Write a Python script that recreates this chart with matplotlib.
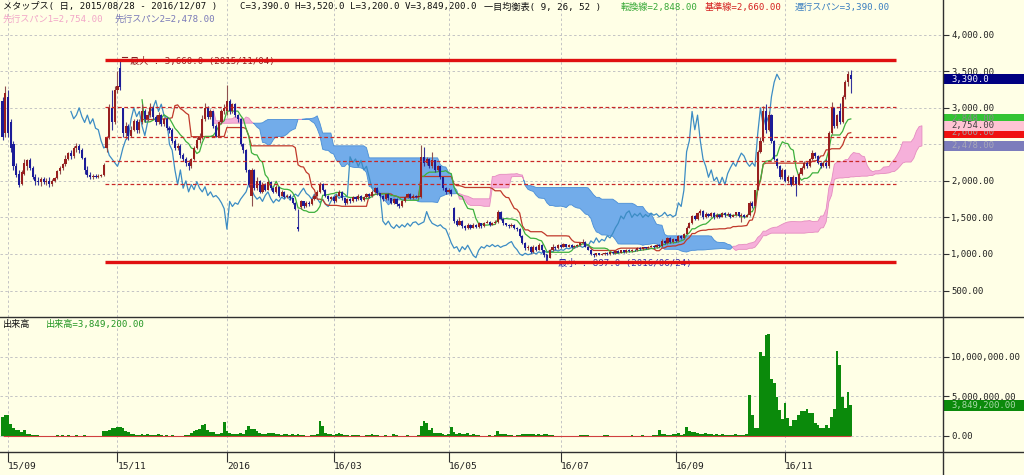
import numpy as np
import pandas as pd
import matplotlib
matplotlib.use('Agg')
import matplotlib.pyplot as plt
from matplotlib.lines import Line2D
from matplotlib.patches import Rectangle

plt.rcParams['font.family'] = ['DejaVu Sans Mono', 'Noto Sans CJK JP']

# ---------------- data ----------------
holidays = ['2015-09-21', '2015-09-22', '2015-09-23', '2015-10-12', '2015-11-03',
            '2015-11-23', '2015-12-23', '2015-12-31', '2016-01-01', '2016-01-11',
            '2016-02-11', '2016-03-21', '2016-04-29', '2016-05-03', '2016-05-04',
            '2016-05-05', '2016-07-18', '2016-08-11', '2016-09-19', '2016-09-22',
            '2016-10-10', '2016-11-03', '2016-11-23']
dates = pd.bdate_range('2015-08-28', '2016-12-07', freq='C', holidays=holidays)

opens = [
    3100, 2650, 3150, 2800, 2500, 2200, 2100, 1960, 2100, 2200,
    2280, 2180, 2050, 2000, 1980, 2030, 1990, 2000, 1960, 2000,
    2040, 2130, 2180, 2230, 2300, 2380, 2340, 2450, 2480, 2420,
    2320, 2150, 2080, 2060, 2070, 2060, 2070, 2080, 2450, 2600,
    3000, 2800, 3250, 3550, 3000, 2650, 2750, 2620, 2700, 2820,
    2700, 2800, 2950, 2850, 2900, 3000, 2880, 2800, 2900, 2780,
    2850, 2720, 2700, 2550, 2450, 2480, 2350, 2300, 2250, 2200,
    2300, 2450, 2560, 2600, 2850, 3000, 2880, 2950, 2750, 2620,
    2800, 2950, 2950, 3100, 2950, 3050, 2900, 2850, 2500, 2420,
    2150, 1800, 2150, 1900, 2000, 1850, 1950, 1880, 1990, 1900,
    1850, 1920, 1800, 1850, 1780, 1800, 1760, 1700, 1370, 1640,
    1720, 1650, 1700, 1680, 1750, 1800, 1850, 1960, 1880, 1800,
    1750, 1780, 1720, 1800, 1850, 1760, 1700, 1750, 1720, 1780,
    1750, 1800, 1740, 1780, 1820, 1790, 1850, 1900, 1830, 1800,
    1750, 1820, 1760, 1700, 1750, 1680, 1650, 1720, 1780, 1820,
    1760, 1800, 1780, 1780, 2330, 2250, 2300, 2200, 2280, 2150,
    2200, 2050, 1900, 1850, 1880, 1630, 1450, 1400, 1450, 1380,
    1350, 1400, 1360, 1400, 1370, 1420, 1380, 1430, 1440, 1400,
    1420, 1440, 1580, 1480, 1420, 1400, 1380, 1400, 1360, 1340,
    1250, 1150, 1080, 1100, 1030, 1100, 1060, 1120, 1050, 980,
    950, 1050, 1100, 1080, 1120, 1100, 1130, 1100, 1120, 1090,
    1110, 1120, 1150, 1170, 1100, 1060, 1000, 980, 1010, 990,
    1000, 1020, 1000, 1030, 1010, 1040, 1020, 1050, 1030, 1060,
    1040, 1060, 1050, 1080, 1070, 1090, 1080, 1100, 1110, 1090,
    1120, 1110, 1180, 1150, 1220, 1160, 1200, 1180, 1250, 1220,
    1280, 1360, 1420, 1520, 1480, 1560, 1590, 1500, 1550, 1520,
    1560, 1500, 1540, 1510, 1560, 1530, 1550, 1510, 1530, 1570,
    1520, 1540, 1510, 1530, 1700, 1650, 1880, 2400, 2550, 2950,
    2700, 2900, 2550, 2300, 2200, 2050, 2150, 2000, 2050, 1950,
    2050, 1950, 2100, 2180, 2250, 2200, 2300, 2380, 2340, 2250,
    2200, 2250, 2200, 2650, 3000, 2750, 2950, 2800, 3150, 3350, 3450]
closes = [
    2600, 3200, 2650, 2450, 2200, 2080, 1950, 2120, 2250, 2280,
    2180, 2050, 2000, 1980, 2030, 1990, 2000, 1960, 2000, 2040,
    2130, 2180, 2230, 2300, 2380, 2340, 2450, 2480, 2420, 2320,
    2150, 2080, 2060, 2070, 2060, 2070, 2080, 2220, 2600, 3000,
    2800, 3250, 3300, 3280, 2650, 2750, 2620, 2700, 2820, 2700,
    2800, 2950, 2850, 2900, 3000, 2880, 2800, 2900, 2780, 2850,
    2720, 2700, 2550, 2450, 2480, 2350, 2300, 2250, 2200, 2300,
    2450, 2560, 2600, 2850, 3000, 2880, 2950, 2750, 2620, 2800,
    2950, 3000, 3100, 2950, 3050, 2900, 2850, 2500, 2420, 2150,
    1950, 2150, 1900, 2000, 1850, 1950, 1880, 1990, 1900, 1850,
    1920, 1800, 1850, 1780, 1800, 1760, 1700, 1620, 1340, 1720,
    1650, 1700, 1680, 1750, 1800, 1850, 1960, 1880, 1800, 1750,
    1780, 1720, 1800, 1850, 1760, 1700, 1750, 1720, 1780, 1750,
    1800, 1740, 1780, 1820, 1790, 1850, 1900, 1830, 1800, 1750,
    1820, 1760, 1700, 1750, 1680, 1650, 1720, 1780, 1820, 1760,
    1800, 1780, 1790, 2330, 2250, 2300, 2200, 2280, 2150, 2200,
    2050, 1900, 1850, 1880, 1820, 1450, 1400, 1450, 1380, 1350,
    1400, 1360, 1400, 1370, 1420, 1380, 1430, 1440, 1400, 1420,
    1440, 1580, 1480, 1420, 1400, 1380, 1400, 1360, 1340, 1250,
    1150, 1080, 1100, 1030, 1100, 1060, 1120, 1050, 980, 950,
    1050, 1100, 1080, 1120, 1100, 1130, 1100, 1120, 1090, 1110,
    1120, 1150, 1170, 1100, 1060, 1000, 980, 1010, 990, 1000,
    1020, 1000, 1030, 1010, 1040, 1020, 1050, 1030, 1060, 1040,
    1060, 1050, 1080, 1070, 1090, 1080, 1100, 1110, 1090, 1120,
    1110, 1180, 1150, 1220, 1160, 1200, 1180, 1250, 1220, 1280,
    1360, 1420, 1520, 1480, 1560, 1590, 1500, 1550, 1520, 1560,
    1500, 1540, 1510, 1560, 1530, 1550, 1510, 1530, 1570, 1520,
    1540, 1510, 1530, 1700, 1650, 1870, 2400, 2550, 2950, 2700,
    2900, 2550, 2300, 2200, 2050, 2150, 2000, 2050, 1950, 2050,
    1950, 2100, 2180, 2250, 2200, 2300, 2380, 2340, 2250, 2200,
    2250, 2200, 2650, 3000, 2750, 2900, 2800, 3150, 3350, 3460, 3390]
highs = [
    3150, 3300, 3250, 2850, 2550, 2250, 2150, 2150, 2300, 2300,
    2320, 2200, 2100, 2060, 2050, 2060, 2040, 2050, 2020, 2060,
    2150, 2200, 2250, 2350, 2400, 2420, 2480, 2520, 2500, 2450,
    2330, 2200, 2120, 2100, 2100, 2090, 2100, 2250, 2620, 3050,
    3250, 3300, 3500, 3660, 3000, 2800, 2780, 2750, 2850, 2850,
    2850, 3050, 2980, 2950, 3060, 3020, 2900, 2940, 2920, 2880,
    2870, 2750, 2720, 2580, 2520, 2500, 2380, 2330, 2280, 2320,
    2480, 2600, 2650, 2900, 3065, 3020, 2980, 2960, 2780, 2820,
    2980, 3050, 3310, 3120, 3070, 3060, 2920, 2860, 2520, 2430,
    2160, 2180, 2160, 2050, 2010, 1980, 1970, 2010, 2000, 1920,
    1940, 1930, 1870, 1860, 1820, 1820, 1770, 1710, 1610, 1740,
    1730, 1720, 1720, 1770, 1820, 1870, 1985, 1970, 1890, 1810,
    1800, 1790, 1820, 1876, 1860, 1770, 1770, 1760, 1800, 1790,
    1820, 1810, 1800, 1840, 1830, 1870, 1920, 1910, 1840, 1810,
    1840, 1830, 1770, 1770, 1760, 1700, 1740, 1800, 1840, 1830,
    1820, 1810, 1810, 2490, 2460, 2330, 2320, 2400, 2290, 2220,
    2210, 2060, 1920, 1900, 1890, 1640, 1480, 1500, 1460, 1400,
    1420, 1410, 1420, 1410, 1440, 1430, 1440, 1460, 1450, 1440,
    1460, 1600, 1590, 1490, 1430, 1410, 1420, 1410, 1370, 1350,
    1260, 1160, 1120, 1110, 1120, 1110, 1150, 1130, 1060, 1000,
    1070, 1130, 1110, 1140, 1130, 1150, 1140, 1130, 1130, 1120,
    1140, 1160, 1200, 1180, 1110, 1070, 1010, 1020, 1020, 1010,
    1030, 1030, 1040, 1040, 1050, 1050, 1060, 1060, 1070, 1070,
    1070, 1070, 1090, 1090, 1100, 1100, 1110, 1120, 1120, 1130,
    1130, 1200, 1190, 1230, 1230, 1220, 1210, 1260, 1260, 1290,
    1380, 1440, 1540, 1530, 1580, 1610, 1600, 1570, 1560, 1575,
    1570, 1560, 1550, 1575, 1570, 1570, 1560, 1550, 1580, 1575,
    1560, 1550, 1550, 1720, 1720, 1880, 2420, 2600, 3020, 3050,
    2950, 2910, 2560, 2320, 2220, 2170, 2160, 2080, 2060, 2080,
    2060, 2120, 2200, 2270, 2270, 2320, 2420, 2400, 2350, 2260,
    2270, 2300, 2680, 3080, 3010, 2920, 3065, 3180, 3380, 3500, 3520]
lows = [
    2560, 2600, 2600, 2400, 2150, 2050, 1917, 1940, 2080, 2150,
    2150, 2020, 1950, 1950, 1930, 1960, 1950, 1920, 1930, 1980,
    2020, 2100, 2150, 2200, 2280, 2300, 2320, 2400, 2380, 2300,
    2100, 2050, 2020, 2030, 2040, 2040, 2050, 2070, 2400, 2580,
    2700, 2780, 3200, 3250, 2600, 2580, 2560, 2600, 2680, 2650,
    2650, 2780, 2800, 2820, 2880, 2850, 2760, 2780, 2750, 2750,
    2700, 2650, 2520, 2420, 2420, 2320, 2270, 2200, 2150, 2180,
    2280, 2430, 2520, 2580, 2820, 2850, 2850, 2720, 2600, 2600,
    2780, 2920, 2900, 2920, 2930, 2880, 2800, 2480, 2380, 2120,
    1917, 1650, 1880, 1880, 1830, 1830, 1860, 1870, 1880, 1830,
    1840, 1780, 1790, 1760, 1760, 1740, 1680, 1600, 1320, 1620,
    1630, 1640, 1660, 1670, 1740, 1790, 1840, 1860, 1780, 1730,
    1740, 1700, 1710, 1790, 1740, 1670, 1690, 1700, 1710, 1730,
    1740, 1720, 1730, 1770, 1770, 1780, 1840, 1810, 1780, 1730,
    1740, 1740, 1680, 1690, 1660, 1630, 1640, 1710, 1770, 1750,
    1750, 1760, 1770, 1770, 2200, 2220, 2180, 2180, 2120, 2130,
    2030, 1880, 1820, 1830, 1800, 1430, 1380, 1390, 1360, 1330,
    1340, 1340, 1350, 1350, 1360, 1360, 1370, 1420, 1380, 1390,
    1410, 1430, 1460, 1400, 1380, 1360, 1370, 1340, 1320, 1230,
    1130, 1060, 1060, 1010, 1020, 1040, 1050, 1030, 960, 897,
    940, 1040, 1060, 1070, 1080, 1090, 1090, 1090, 1080, 1080,
    1100, 1110, 1140, 1090, 1050, 990, 960, 970, 980, 980,
    990, 990, 990, 1000, 1000, 1010, 1010, 1020, 1020, 1030,
    1030, 1040, 1040, 1060, 1060, 1070, 1070, 1090, 1080, 1080,
    1100, 1100, 1140, 1140, 1150, 1150, 1160, 1170, 1200, 1210,
    1270, 1350, 1410, 1460, 1470, 1540, 1480, 1490, 1500, 1500,
    1480, 1490, 1490, 1500, 1510, 1520, 1490, 1500, 1520, 1500,
    1436, 1490, 1500, 1520, 1630, 1640, 1870, 2380, 2530, 2650,
    2680, 2520, 2280, 2170, 2030, 2020, 1980, 1970, 1930, 1940,
    1800, 1940, 2080, 2160, 2180, 2190, 2280, 2320, 2230, 2180,
    2190, 2180, 2176, 2640, 2720, 2730, 2780, 2790, 3120, 3300, 3200]
# volume in thousands of shares
volumes_k = [
    2400, 2700, 2600, 1500, 1000, 700, 700, 450, 800, 300,
    200, 150, 100, 80, 60, 50, 40, 60, 40, 50,
    80, 60, 90, 50, 100, 40, 60, 80, 40, 50,
    90, 40, 30, 30, 40, 30, 40, 600, 650, 700,
    1000, 1050, 1150, 1100, 1000, 650, 550, 300, 250, 150,
    120, 200, 150, 250, 120, 100, 80, 220, 100, 60,
    80, 60, 80, 50, 40, 60, 40, 80, 100, 350,
    600, 700, 850, 1400, 1500, 800, 550, 450, 250, 300,
    400, 1800, 600, 350, 250, 200, 250, 400, 300, 700,
    1200, 900, 850, 600, 350, 250, 200, 400, 400, 350,
    300, 200, 150, 250, 300, 150, 200, 150, 200, 100,
    80, 60, 50, 120, 150, 300, 1900, 1300, 350, 250,
    300, 150, 200, 350, 250, 100, 80, 60, 100, 80,
    150, 60, 60, 80, 100, 250, 150, 80, 60, 60,
    80, 50, 60, 200, 180, 60, 40, 60, 80, 60,
    40, 40, 80, 1300, 1900, 1600, 800, 1000, 400, 350,
    400, 250, 150, 200, 1100, 550, 250, 350, 300, 250,
    350, 150, 300, 100, 80, 60, 50, 60, 80, 60,
    150, 600, 250, 200, 300, 100, 80, 60, 100, 150,
    200, 250, 250, 200, 200, 150, 200, 150, 200, 300,
    150, 100, 60, 40, 60, 40, 60, 40, 50, 40,
    60, 80, 150, 100, 80, 60, 40, 40, 50, 40,
    100, 80, 60, 40, 40, 30, 40, 30, 40, 60,
    80, 40, 30, 40, 150, 60, 40, 60, 80, 100,
    800, 300, 200, 150, 100, 250, 200, 350, 150, 300,
    1100, 600, 500, 450, 350, 300, 250, 400, 300, 200,
    150, 200, 150, 300, 150, 100, 150, 100, 200, 150,
    100, 150, 250, 5200, 2600, 1000, 1000, 10600, 10100, 12700,
    12800, 7200, 6700, 4900, 3300, 2200, 4200, 2300, 1200, 2000,
    2000, 2600, 3100, 3100, 3400, 2900, 2900, 1600, 1400, 1000,
    1000, 1400, 1000, 2400, 3400, 10700, 8900, 4900, 3500, 5500, 3849.2]

tick_months = ['2015-09', '2015-11', '2016-01', '2016-03', '2016-05', '2016-07', '2016-09', '2016-11']
tick_labels = ['15/09', '15/11', '2016', '16/03', '16/05', '16/07', '16/09', '16/11']
price_ticks = [500, 1000, 1500, 2000, 2500, 3000, 3500, 4000]
vol_ticks = [0, 5_000_000, 10_000_000]
ichimoku_periods = (9, 26, 52)
max_price, max_date = 3660.0, '2015/11/04'
min_price, min_date = 897.0, '2016/06/24'
fib_ratios = [0.236, 0.382, 0.5, 0.618]

# ---------------- derived ----------------
O = np.array(opens, float); C = np.array(closes, float)
H = np.array(highs, float); L = np.array(lows, float)
V = np.array(volumes_k, float) * 1000
n = len(C)
dates = dates[:n]
x = np.arange(n)
p9, p26, p52 = ichimoku_periods
first = p52 - 1

def midpt(period, i):
    return (H[i - period + 1:i + 1].max() + L[i - period + 1:i + 1].min()) / 2

tenkan = np.full(n, np.nan); kijun = np.full(n, np.nan)
span1 = np.full(n + p26, np.nan); span2 = np.full(n + p26, np.nan)
for i in range(first, n):
    tenkan[i] = midpt(p9, i)
    kijun[i] = midpt(p26, i)
    span1[i + p26] = (tenkan[i] + kijun[i]) / 2
    span2[i + p26] = midpt(p52, i)
xs = np.arange(n + p26)

max_idx = int(np.argmax(H)); min_idx = int(np.argmin(L))

# ---------------- figure ----------------
W, Hh = 1024, 475
BG = '#FFFFE6'
fig = plt.figure(figsize=(W / 100, Hh / 100), dpi=100, facecolor=BG)
plot_r = 943
y_split, y_bot = 317, 452
axp = fig.add_axes([0, 1 - y_split / Hh, plot_r / W, y_split / Hh], facecolor=BG)
axv = fig.add_axes([0, 1 - y_bot / Hh, plot_r / W, (y_bot - y_split) / Hh], facecolor=BG)

x0 = -0.925; x1 = 343.7
for a in (axp, axv):
    a.set_xlim(x0, x1)
    for s in a.spines.values():
        s.set_visible(False)
axp.set_ylim(138, 4475)
axv.set_ylim(-2.02e6, 15.0e6)

tick_pos = [int(np.where(dates.strftime('%Y-%m') == m)[0][0]) for m in tick_months]

gkw = dict(color='#C4C4C4', linestyle=(0, (2.5, 2.5)), linewidth=0.7)
for a, yt in ((axp, price_ticks), (axv, vol_ticks)):
    a.set_axisbelow(True)
    a.set_xticks(tick_pos)
    a.set_yticks(yt)
    a.grid(True, **gkw)
    a.yaxis.tick_right()
    a.tick_params(axis='y', direction='out', length=4, width=0.8, pad=2,
                  labelsize=6.4, color='#303030', labelcolor='#202020')
axp.set_yticklabels([f'{v:,.2f}' for v in price_ticks])
axv.set_yticklabels([f'{v:,.2f}' for v in vol_ticks])
axp.tick_params(axis='x', length=0, labelbottom=False)
axv.set_xticklabels(tick_labels)
axv.tick_params(axis='x', direction='out', length=7, width=0.8, pad=0,
                labelsize=6.8, color='#303030', labelcolor='#202020')
for lb in axv.get_xticklabels():
    lb.set_ha('left')

# cloud
pink, blue = '#F6B0DA', '#72ACEA'
axp.fill_between(xs, span1, span2, where=span1 >= span2, interpolate=True,
                 facecolor=pink, edgecolor='#E58CC0', linewidth=0.6, zorder=1)
axp.fill_between(xs, span1, span2, where=span1 < span2, interpolate=True,
                 facecolor=blue, edgecolor='#4A8ED6', linewidth=0.6, zorder=1)

# lines
axp.plot(x[first:] - p26, C[first:], color='#3C8CC4', lw=0.9, zorder=2)
axp.plot(x, kijun, color='#C0392B', lw=0.9, zorder=2)
axp.plot(x, tenkan, color='#3DB03D', lw=0.9, zorder=2)

# candles
up = C >= O
body_b = np.minimum(O, C); body_h = np.maximum(np.abs(C - O), 10)
ucol, dcol = '#98201F', '#1C1C98'
axp.vlines(x[up], L[up], H[up], color='#8E5050', lw=0.8, zorder=3)
axp.vlines(x[~up], L[~up], H[~up], color='#34349C', lw=0.8, zorder=3)
axp.bar(x[up], body_h[up], bottom=body_b[up], width=0.78, color=ucol, linewidth=0, zorder=3.1)
axp.bar(x[~up], body_h[~up], bottom=body_b[~up], width=0.78, color=dcol, linewidth=0, zorder=3.1)

# max / min and fibonacci levels
fx0, fx1 = 37.5, 326.5
rng = max_price - min_price
for r in fib_ratios:
    axp.hlines(max_price - r * rng, fx0, fx1, color='#C82828', lw=0.9,
               linestyle=(0, (3, 2)), zorder=4)
axp.text(max_idx + 3.6, max_price - 25, f'最大 : {max_price:,.1f} ({max_date})', fontsize=6.6,
         color='#8C2020', va='center', ha='left', zorder=4)
axp.plot([max_idx + 0.5, max_idx + 2.6], [max_price + 30, max_price + 30], color='#8C2020', lw=0.8, zorder=4)
axp.text(min_idx + 4.0, min_price - 25, f'最小 : {min_price:,.1f} ({min_date})', fontsize=6.6,
         color='#3030A8', va='center', ha='left', zorder=4)
axp.plot([min_idx - 0.4, min_idx - 0.4, min_idx + 2.8], [1000, min_price, min_price],
         color='#3030A8', lw=0.8, zorder=4)
axp.hlines([max_price, min_price], fx0, fx1, color='#E01010', lw=2.4, zorder=4.5)

# volume
axv.bar(x, V, width=1.0, color='#0B8A0B', linewidth=0, zorder=2)
axv.hlines(0, 0, n - 1, color='#D04040', lw=0.8, zorder=3)

# frame lines
for (xx, yy) in (([plot_r / W] * 2, [0, 1]),
                 ([0, 1], [1 - y_split / Hh] * 2),
                 ([0, 1], [1 - y_bot / Hh] * 2)):
    fig.add_artist(Line2D(xx, yy, transform=fig.transFigure, color='#303030', lw=1.0, zorder=20))

# header texts
def ftext(px, py, s, color, z=5):
    fig.text(px / W, 1 - py / Hh, s, color=color, fontsize=6.6, va='center', ha='left', zorder=z)

ftext(3, 7, 'メタップス( 日, 2015/08/28 - 2016/12/07 )', '#101010')
ftext(240, 7, f'C={C[-1]:,.1f} H={H[-1]:,.1f} L={L[-1]:,.1f} V={V[-1]:,.1f}', '#101010')
ftext(484, 7, '一目均衡表( 9, 26, 52 )', '#101010')
ftext(621, 7, f'転換線={tenkan[-1]:,.2f}', '#36A836')
ftext(705, 7, f'基準線={kijun[-1]:,.2f}', '#D42020')
ftext(795, 7, f'遅行スパン={C[-1]:,.2f}', '#3A7EC0')
ftext(3, 19, f'先行スパン1={span1[-1]:,.2f}', '#F2A6C8')
ftext(115, 19, f'先行スパン2={span2[-1]:,.2f}', '#7A7AB8')
ftext(3, 325, '出来高', '#101010')
ftext(46, 325, f'出来高={V[-1]:,.2f}', '#239623')

# value boxes on right axis
fig.canvas.draw()
def box(ax, val, text, fc, tc, z, hpx=10):
    ypix = ax.transData.transform((0, val))[1]
    fig.add_artist(Rectangle((plot_r / W, (ypix - hpx / 2) / Hh), 1 - plot_r / W, hpx / Hh,
                             transform=fig.transFigure, facecolor=fc, edgecolor='none', zorder=z))
    fig.text(951 / W, ypix / Hh, text, color=tc, fontsize=6.4, va='center', ha='left', zorder=z + 0.5)

box(axp, tenkan[-1], f'{tenkan[-1]:,.2f}', '#33C433', '#8A8A8A', 10)
box(axp, kijun[-1], f'{kijun[-1]:,.2f}', '#F01010', '#A0A0A0', 11)
box(axp, span2[-1], f'{span2[-1]:,.2f}', '#7C7CBC', '#A8A8B8', 12)
box(axp, C[-1], f'{C[-1]:,.1f}', '#000080', '#FFFFFF', 13)
box(axp, span1[-1], f'{span1[-1]:,.2f}', '#FFC4D4', '#404040', 14)
box(axv, V[-1], f'{V[-1]:,.2f}', '#0B8A0B', '#A8D8A8', 15, hpx=11)

fig.savefig('out.png', dpi=100, facecolor=BG)
